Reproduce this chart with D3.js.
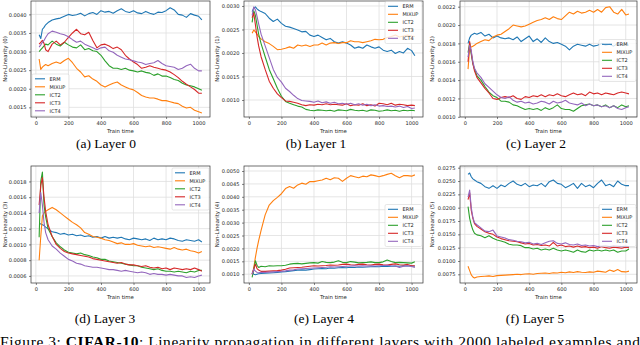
<!DOCTYPE html>
<html>
<head>
<meta charset="utf-8">
<script src="https://d3js.org/d3.v7.min.js"></script>
<style>
  body { margin: 0; background: #fff; }
  .tick text { font-family: "DejaVu Sans", sans-serif; fill: #262626; }
</style>
</head>
<body>
<div id="figure"></div>
<script>
// Shared x values (train time) for every series
var trainTime = [20, 30, 40, 50, 60, 75, 100, 125, 150, 175, 200,
  225, 250, 275, 300, 325, 350, 375, 400, 425, 450, 475,
  500, 525, 550, 575, 600, 625, 650, 675, 700, 725, 750,
  775, 800, 825, 850, 875, 900, 925, 950, 975, 1000, 1020];

var methods = ["ERM", "MIXUP", "ICT2", "ICT3", "ICT4"];
var methodColors = ["#1f77b4", "#ff7f0e", "#2ca02c", "#d62728", "#9467bd"];
var xTicks = [0, 200, 400, 600, 800, 1000];

// Layer 0
var erm0 = [0.00345,0.00335,0.00360,0.00365,0.00372,0.00378,0.00385,0.00388,0.00390,0.00395,0.00400,
  0.00397,0.00399,0.00403,0.00396,0.00402,0.00405,0.00400,0.00410,0.00406,0.00408,0.00403,
  0.00410,0.00415,0.00408,0.00405,0.00410,0.00404,0.00402,0.00408,0.00403,0.00400,0.00406,
  0.00405,0.00410,0.00418,0.00412,0.00400,0.00398,0.00392,0.00402,0.00398,0.00395,0.00385];
var mixup0 = [0.00280,0.00252,0.00258,0.00262,0.00265,0.00262,0.00268,0.00272,0.00268,0.00276,0.00282,
  0.00270,0.00255,0.00245,0.00232,0.00235,0.00226,0.00220,0.00210,0.00205,0.00210,0.00215,
  0.00218,0.00210,0.00205,0.00200,0.00197,0.00190,0.00182,0.00178,0.00175,0.00175,0.00172,
  0.00168,0.00168,0.00165,0.00162,0.00160,0.00153,0.00148,0.00150,0.00142,0.00138,0.00135];
var ict20 = [0.00300,0.00305,0.00310,0.00315,0.00320,0.00318,0.00328,0.00320,0.00315,0.00325,0.00318,
  0.00312,0.00310,0.00318,0.00305,0.00308,0.00302,0.00300,0.00290,0.00275,0.00262,0.00255,
  0.00255,0.00252,0.00255,0.00250,0.00248,0.00245,0.00248,0.00244,0.00242,0.00236,0.00240,
  0.00234,0.00234,0.00230,0.00225,0.00222,0.00215,0.00210,0.00208,0.00205,0.00200,0.00196];
var ict30 = [0.00320,0.00325,0.00330,0.00322,0.00305,0.00300,0.00320,0.00328,0.00318,0.00325,0.00338,
  0.00350,0.00360,0.00348,0.00345,0.00352,0.00330,0.00310,0.00318,0.00320,0.00315,0.00308,
  0.00312,0.00305,0.00290,0.00280,0.00272,0.00265,0.00255,0.00258,0.00262,0.00258,0.00255,
  0.00252,0.00250,0.00245,0.00238,0.00230,0.00220,0.00212,0.00205,0.00198,0.00188,0.00188];
var ict40 = [0.00312,0.00318,0.00325,0.00330,0.00338,0.00348,0.00355,0.00352,0.00348,0.00345,0.00340,
  0.00332,0.00325,0.00328,0.00320,0.00315,0.00310,0.00305,0.00310,0.00312,0.00302,0.00298,
  0.00290,0.00285,0.00280,0.00278,0.00275,0.00272,0.00270,0.00265,0.00268,0.00270,0.00276,
  0.00268,0.00262,0.00260,0.00258,0.00252,0.00255,0.00262,0.00266,0.00255,0.00248,0.00248];

// Layer 1
var erm1 = [0.00288,0.00296,0.00298,0.00294,0.00291,0.00288,0.00284,0.00274,0.00267,0.00272,0.00263,
  0.00257,0.00255,0.00252,0.00249,0.00245,0.00246,0.00238,0.00235,0.00238,0.00233,0.00228,
  0.00231,0.00224,0.00221,0.00224,0.00221,0.00217,0.00210,0.00213,0.00210,0.00217,0.00213,
  0.00210,0.00213,0.00206,0.00203,0.00206,0.00199,0.00203,0.00200,0.00210,0.00205,0.00194];
var mixup1 = [0.00242,0.00249,0.00245,0.00240,0.00235,0.00230,0.00224,0.00220,0.00214,0.00207,0.00208,
  0.00210,0.00213,0.00210,0.00217,0.00215,0.00217,0.00214,0.00217,0.00217,0.00221,0.00217,
  0.00221,0.00222,0.00220,0.00222,0.00222,0.00226,0.00224,0.00224,0.00222,0.00224,0.00226,
  0.00229,0.00228,0.00229,0.00233,0.00235,0.00238,0.00234,0.00236,0.00238,0.00236,0.00235];
var ict21 = [0.00265,0.00290,0.00280,0.00260,0.00240,0.00220,0.00192,0.00165,0.00145,0.00125,0.00108,
  0.00097,0.00093,0.00090,0.00087,0.00085,0.00080,0.00078,0.00077,0.00079,0.00078,0.00077,
  0.00078,0.00076,0.00079,0.00078,0.00077,0.00080,0.00078,0.00077,0.00078,0.00076,0.00079,
  0.00078,0.00076,0.00077,0.00079,0.00077,0.00078,0.00076,0.00078,0.00077,0.00078,0.00077];
var ict31 = [0.00275,0.00285,0.00260,0.00235,0.00215,0.00192,0.00165,0.00140,0.00125,0.00113,0.00105,
  0.00098,0.00097,0.00095,0.00093,0.00090,0.00088,0.00090,0.00089,0.00091,0.00090,0.00092,
  0.00090,0.00091,0.00090,0.00089,0.00092,0.00088,0.00090,0.00089,0.00092,0.00088,0.00090,
  0.00087,0.00093,0.00092,0.00090,0.00093,0.00089,0.00091,0.00090,0.00088,0.00089,0.00088];
var ict41 = [0.00280,0.00298,0.00292,0.00278,0.00262,0.00240,0.00215,0.00190,0.00165,0.00148,0.00138,
  0.00125,0.00118,0.00110,0.00103,0.00099,0.00098,0.00097,0.00095,0.00098,0.00094,0.00096,
  0.00093,0.00095,0.00092,0.00093,0.00091,0.00093,0.00090,0.00092,0.00089,0.00091,0.00088,
  0.00090,0.00087,0.00088,0.00086,0.00087,0.00085,0.00087,0.00084,0.00086,0.00082,0.00083];

// Layer 2
var erm2 = [0.00180,0.00186,0.00189,0.00190,0.00191,0.00190,0.00192,0.00188,0.00190,0.00186,0.00188,
  0.00186,0.00185,0.00186,0.00184,0.00187,0.00182,0.00185,0.00188,0.00182,0.00185,0.00181,
  0.00186,0.00182,0.00180,0.00181,0.00179,0.00177,0.00173,0.00177,0.00179,0.00178,0.00177,
  0.00179,0.00177,0.00178,0.00180,0.00178,0.00179,0.00177,0.00180,0.00178,0.00179,0.00178];
var mixup2 = [0.00152,0.00175,0.00176,0.00177,0.00178,0.00180,0.00182,0.00184,0.00183,0.00187,0.00189,
  0.00190,0.00193,0.00196,0.00200,0.00199,0.00198,0.00199,0.00201,0.00203,0.00205,0.00206,
  0.00208,0.00206,0.00209,0.00207,0.00206,0.00210,0.00214,0.00212,0.00215,0.00213,0.00214,
  0.00216,0.00214,0.00217,0.00214,0.00219,0.00220,0.00214,0.00212,0.00217,0.00211,0.00212];
var ict22 = [0.00170,0.00180,0.00168,0.00158,0.00152,0.00145,0.00140,0.00133,0.00127,0.00123,0.00121,
  0.00117,0.00117,0.00116,0.00113,0.00112,0.00110,0.00108,0.00109,0.00108,0.00109,0.00107,
  0.00110,0.00108,0.00110,0.00113,0.00109,0.00108,0.00108,0.00106,0.00109,0.00112,0.00113,
  0.00114,0.00112,0.00113,0.00111,0.00113,0.00110,0.00112,0.00110,0.00113,0.00111,0.00112];
var ict32 = [0.00160,0.00182,0.00170,0.00158,0.00150,0.00143,0.00137,0.00131,0.00126,0.00120,0.00119,
  0.00121,0.00122,0.00121,0.00123,0.00120,0.00119,0.00122,0.00121,0.00123,0.00122,0.00124,
  0.00122,0.00124,0.00123,0.00125,0.00123,0.00122,0.00124,0.00126,0.00124,0.00125,0.00123,
  0.00127,0.00125,0.00126,0.00124,0.00126,0.00125,0.00124,0.00126,0.00127,0.00126,0.00125];
var ict42 = [0.00165,0.00178,0.00172,0.00160,0.00153,0.00148,0.00143,0.00136,0.00132,0.00128,0.00124,
  0.00121,0.00120,0.00122,0.00118,0.00116,0.00117,0.00115,0.00116,0.00114,0.00115,0.00117,
  0.00116,0.00114,0.00117,0.00115,0.00116,0.00118,0.00115,0.00114,0.00113,0.00115,0.00112,
  0.00114,0.00112,0.00113,0.00111,0.00112,0.00110,0.00112,0.00109,0.00108,0.00110,0.00111];

// Layer 3
var erm3 = [0.00127,0.00126,0.00125,0.00124,0.00122,0.00120,0.00116,0.00115,0.00113,0.00114,0.00112,
  0.00113,0.00111,0.00112,0.00110,0.00111,0.00109,0.00110,0.00108,0.00110,0.00108,0.00109,
  0.00108,0.00109,0.00107,0.00106,0.00108,0.00107,0.00106,0.00107,0.00105,0.00108,0.00106,
  0.00107,0.00106,0.00108,0.00107,0.00105,0.00104,0.00106,0.00105,0.00104,0.00106,0.00103];
var mixup3 = [0.00080,0.00110,0.00136,0.00140,0.00142,0.00144,0.00147,0.00144,0.00140,0.00136,0.00132,
  0.00128,0.00125,0.00121,0.00115,0.00113,0.00110,0.00109,0.00108,0.00106,0.00105,0.00103,
  0.00101,0.00102,0.00100,0.00100,0.00101,0.00099,0.00098,0.00097,0.00098,0.00096,0.00097,
  0.00096,0.00095,0.00094,0.00096,0.00094,0.00093,0.00094,0.00092,0.00091,0.00089,0.00091];
var ict23 = [0.00109,0.00180,0.00192,0.00150,0.00135,0.00120,0.00110,0.00102,0.00097,0.00093,0.00090,
  0.00089,0.00088,0.00089,0.00087,0.00086,0.00084,0.00083,0.00081,0.00081,0.00079,0.00078,
  0.00077,0.00076,0.00075,0.00074,0.00073,0.00073,0.00071,0.00070,0.00069,0.00068,0.00069,
  0.00067,0.00066,0.00066,0.00065,0.00066,0.00065,0.00064,0.00066,0.00065,0.00067,0.00067];
var ict33 = [0.00150,0.00175,0.00185,0.00160,0.00142,0.00125,0.00110,0.00100,0.00095,0.00091,0.00089,
  0.00088,0.00087,0.00086,0.00085,0.00084,0.00082,0.00081,0.00080,0.00079,0.00078,0.00077,
  0.00076,0.00077,0.00075,0.00074,0.00074,0.00073,0.00072,0.00073,0.00071,0.00070,0.00071,
  0.00069,0.00070,0.00068,0.00070,0.00069,0.00068,0.00069,0.00068,0.00070,0.00068,0.00066];
var ict43 = [0.00140,0.00166,0.00150,0.00128,0.00115,0.00106,0.00098,0.00094,0.00089,0.00085,0.00081,
  0.00079,0.00076,0.00075,0.00073,0.00072,0.00071,0.00071,0.00070,0.00069,0.00068,0.00068,
  0.00067,0.00066,0.00067,0.00066,0.00065,0.00064,0.00065,0.00064,0.00062,0.00063,0.00062,
  0.00062,0.00061,0.00062,0.00061,0.00060,0.00060,0.00058,0.00059,0.00058,0.00060,0.00061];

// Layer 4
var erm4 = [0.00107,0.00100,0.00098,0.00100,0.00102,0.00103,0.00104,0.00105,0.00106,0.00107,0.00109,
  0.00110,0.00112,0.00114,0.00116,0.00117,0.00116,0.00118,0.00120,0.00121,0.00122,0.00121,
  0.00124,0.00123,0.00125,0.00126,0.00125,0.00127,0.00126,0.00128,0.00127,0.00128,0.00129,
  0.00130,0.00129,0.00131,0.00130,0.00131,0.00132,0.00131,0.00133,0.00132,0.00132,0.00131];
var mixup4 = [0.00100,0.00125,0.00165,0.00200,0.00230,0.00270,0.00330,0.00368,0.00385,0.00398,0.00412,
  0.00432,0.00440,0.00433,0.00446,0.00453,0.00449,0.00459,0.00459,0.00462,0.00465,0.00472,
  0.00466,0.00474,0.00472,0.00460,0.00472,0.00482,0.00478,0.00474,0.00480,0.00478,0.00485,
  0.00482,0.00478,0.00482,0.00487,0.00491,0.00482,0.00474,0.00482,0.00482,0.00480,0.00485];
var ict24 = [0.00088,0.00120,0.00152,0.00135,0.00126,0.00131,0.00129,0.00133,0.00132,0.00133,0.00133,
  0.00135,0.00139,0.00141,0.00142,0.00140,0.00142,0.00144,0.00145,0.00143,0.00149,0.00146,
  0.00145,0.00147,0.00152,0.00146,0.00145,0.00149,0.00147,0.00144,0.00145,0.00146,0.00148,
  0.00145,0.00145,0.00148,0.00155,0.00149,0.00145,0.00146,0.00145,0.00144,0.00143,0.00148];
var ict34 = [0.00100,0.00120,0.00139,0.00122,0.00116,0.00111,0.00111,0.00112,0.00113,0.00114,0.00116,
  0.00119,0.00124,0.00125,0.00126,0.00127,0.00129,0.00131,0.00133,0.00132,0.00133,0.00134,
  0.00136,0.00135,0.00136,0.00138,0.00139,0.00137,0.00136,0.00138,0.00139,0.00137,0.00136,
  0.00138,0.00139,0.00137,0.00136,0.00138,0.00140,0.00137,0.00136,0.00138,0.00133,0.00133];
var ict44 = [0.00100,0.00120,0.00112,0.00107,0.00106,0.00107,0.00107,0.00108,0.00109,0.00110,0.00111,
  0.00113,0.00116,0.00117,0.00120,0.00121,0.00122,0.00123,0.00124,0.00125,0.00126,0.00127,
  0.00129,0.00128,0.00129,0.00130,0.00131,0.00132,0.00133,0.00132,0.00133,0.00132,0.00133,
  0.00132,0.00133,0.00134,0.00135,0.00133,0.00132,0.00126,0.00131,0.00133,0.00130,0.00126];

// Layer 5
var erm5 = [0.02625,0.02650,0.02580,0.02540,0.02520,0.02488,0.02456,0.02394,0.02363,0.02413,0.02363,
  0.02425,0.02394,0.02456,0.02500,0.02438,0.02413,0.02456,0.02394,0.02425,0.02413,0.02456,
  0.02394,0.02488,0.02519,0.02456,0.02438,0.02375,0.02413,0.02456,0.02363,0.02456,0.02394,
  0.02425,0.02375,0.02456,0.02519,0.02413,0.02438,0.02394,0.02500,0.02438,0.02413,0.02413];
var mixup5 = [0.00900,0.00820,0.00740,0.00700,0.00680,0.00700,0.00710,0.00715,0.00720,0.00710,0.00725,
  0.00730,0.00735,0.00740,0.00745,0.00750,0.00745,0.00755,0.00760,0.00750,0.00765,0.00770,
  0.00775,0.00765,0.00780,0.00775,0.00790,0.00780,0.00795,0.00785,0.00800,0.00790,0.00785,
  0.00795,0.00790,0.00810,0.00800,0.00790,0.00830,0.00805,0.00840,0.00800,0.00795,0.00810];
var ict25 = [0.02020,0.01800,0.01675,0.01580,0.01520,0.01490,0.01475,0.01438,0.01475,0.01425,0.01394,
  0.01375,0.01350,0.01313,0.01300,0.01300,0.01288,0.01250,0.01250,0.01225,0.01238,0.01206,
  0.01225,0.01206,0.01238,0.01206,0.01188,0.01206,0.01188,0.01163,0.01206,0.01175,0.01163,
  0.01206,0.01188,0.01206,0.01188,0.01206,0.01188,0.01206,0.01163,0.01188,0.01188,0.01225];
var ict35 = [0.02150,0.02280,0.01950,0.01800,0.01700,0.01650,0.01600,0.01550,0.01520,0.01500,0.01450,
  0.01420,0.01400,0.01380,0.01370,0.01360,0.01340,0.01320,0.01330,0.01300,0.01310,0.01290,
  0.01300,0.01280,0.01350,0.01280,0.01300,0.01270,0.01280,0.01260,0.01280,0.01260,0.01270,
  0.01250,0.01260,0.01240,0.01270,0.01250,0.01240,0.01260,0.01250,0.01240,0.01260,0.01250];
var ict45 = [0.02200,0.02330,0.02000,0.01820,0.01720,0.01680,0.01620,0.01560,0.01550,0.01580,0.01470,
  0.01450,0.01430,0.01400,0.01390,0.01370,0.01360,0.01340,0.01350,0.01320,0.01330,0.01310,
  0.01340,0.01370,0.01380,0.01330,0.01320,0.01340,0.01310,0.01300,0.01320,0.01290,0.01300,
  0.01280,0.01290,0.01270,0.01280,0.01290,0.01270,0.01290,0.01280,0.01270,0.01280,0.01270];

// y tick labels for each layer
var yTicks0 = [0.0015, 0.0020, 0.0025, 0.0030, 0.0035, 0.0040];
var yTicks1 = [0.0010, 0.0015, 0.0020, 0.0025, 0.0030];
var yTicks2 = [0.0010, 0.0012, 0.0014, 0.0016, 0.0018, 0.0020, 0.0022];
var yTicks3 = [0.0006, 0.0008, 0.0010, 0.0012, 0.0014, 0.0016, 0.0018];
var yTicks4 = [0.0010, 0.0015, 0.0020, 0.0025, 0.0030, 0.0035, 0.0040, 0.0045, 0.0050];
var yTicks5 = [0.0075, 0.0100, 0.0125, 0.0150, 0.0175, 0.0200, 0.0225, 0.0250, 0.0275];

// Panel layout (frame edges in page pixels)
var panels = [
  {layer: 0, caption: "(a) Layer 0", series: [erm0, mixup0, ict20, ict30, ict40], yTicks: yTicks0,
    yDomain: [0.00124, 0.00436], left: 31, right: 210, top: 1, bottom: 117, ylabelX: 5, capX: 106, capY: 148,
    legendX: 1, legendY: 73},
  {layer: 1, caption: "(b) Layer 1", series: [erm1, mixup1, ict21, ict31, ict41], yTicks: yTicks1,
    yDomain: [0.000638, 0.003106], left: 244, right: 423, top: 1, bottom: 117, ylabelX: 216.5, capX: 316, capY: 148,
    legendX: 141, legendY: 0.5},
  {layer: 2, caption: "(c) Layer 2", series: [erm2, mixup2, ict22, ict32, ict42], yTicks: yTicks2,
    yDomain: [0.000998, 0.002262], left: 460, right: 637, top: 1, bottom: 117, ylabelX: 431.5, capX: 536, capY: 148,
    legendX: 139, legendY: 38.5},
  {layer: 3, caption: "(d) Layer 3", series: [erm3, mixup3, ict23, ict33, ict43], yTicks: yTicks3,
    yDomain: [0.00051, 0.001996], left: 31, right: 210, top: 166, bottom: 283, ylabelX: 5, capX: 105, capY: 323,
    legendX: 141, legendY: 2},
  {layer: 4, caption: "(e) Layer 4", series: [erm4, mixup4, ict24, ict34, ict44], yTicks: yTicks4,
    yDomain: [0.00066, 0.005194], left: 244, right: 423, top: 166, bottom: 283, ylabelX: 216.5, capX: 324, capY: 323,
    legendX: 141, legendY: 38.5},
  {layer: 5, caption: "(f) Layer 5", series: [erm5, mixup5, ict25, ict35, ict45], yTicks: yTicks5,
    yDomain: [0.00587, 0.02782], left: 460, right: 637, top: 166, bottom: 283, ylabelX: 431.5, capX: 535, capY: 323,
    legendX: 139, legendY: 38.5}
];

var svgWidth = 640;
var svgHeight = 345;

var svg = d3.select("#figure")
  .append("svg")
  .attr("width", svgWidth)
  .attr("height", svgHeight)
  .style("display", "block");

svg.append("rect")
  .attr("width", svgWidth)
  .attr("height", svgHeight)
  .attr("fill", "#fff");

var tickFont = 5.1;

panels.forEach(function(p, i) {
  var width = p.right - p.left;
  var height = p.bottom - p.top;

  var xScale = d3.scaleLinear().domain([-30, 1070]).range([0, width]);
  var yScale = d3.scaleLinear().domain(p.yDomain).range([height, 0]);

  var chartGroup = svg.append("g")
    .attr("transform", `translate(${p.left}, ${p.top})`);

  // grid lines
  chartGroup.append("g").selectAll("line")
    .data(xTicks)
    .enter()
    .append("line")
    .attr("x1", d => xScale(d)).attr("x2", d => xScale(d))
    .attr("y1", 0).attr("y2", height)
    .attr("stroke", "#dedede").attr("stroke-width", 0.8);

  chartGroup.append("g").selectAll("line")
    .data(p.yTicks)
    .enter()
    .append("line")
    .attr("x1", 0).attr("x2", width)
    .attr("y1", d => yScale(d)).attr("y2", d => yScale(d))
    .attr("stroke", "#dedede").attr("stroke-width", 0.8);

  // clip the lines to the frame
  svg.append("clipPath")
    .attr("id", "clip" + i)
    .append("rect")
    .attr("width", width)
    .attr("height", height);

  var line = d3.line()
    .x((d, j) => xScale(trainTime[j]))
    .y(d => yScale(d));

  chartGroup.append("g")
    .attr("clip-path", `url(#clip${i})`)
    .selectAll("path")
    .data(p.series)
    .enter()
    .append("path")
    .attr("d", d => line(d))
    .attr("fill", "none")
    .attr("stroke", (d, j) => methodColors[j])
    .attr("stroke-width", 1.1)
    .attr("stroke-linejoin", "round");

  // axes
  var bottomAxis = d3.axisBottom(xScale)
    .tickValues(xTicks)
    .tickFormat(d3.format("d"))
    .tickSize(2)
    .tickPadding(2);

  var leftAxis = d3.axisLeft(yScale)
    .tickValues(p.yTicks)
    .tickFormat(d3.format(".4f"))
    .tickSize(2)
    .tickPadding(2.5);

  var xAxis = chartGroup.append("g")
    .attr("transform", `translate(0, ${height})`)
    .call(bottomAxis);

  var yAxis = chartGroup.append("g")
    .call(leftAxis);

  [xAxis, yAxis].forEach(function(ax) {
    ax.select(".domain").remove();
    ax.selectAll(".tick line").attr("stroke", "#333").attr("stroke-width", 0.6);
    ax.selectAll(".tick text").attr("font-size", tickFont);
  });

  // frame
  chartGroup.append("rect")
    .attr("width", width)
    .attr("height", height)
    .attr("fill", "none")
    .attr("stroke", "#333")
    .attr("stroke-width", 0.7);

  // axis labels
  chartGroup.append("text")
    .attr("x", width / 2)
    .attr("y", height + 15.5)
    .attr("text-anchor", "middle")
    .attr("font-family", "DejaVu Sans, sans-serif")
    .attr("font-size", 5.4)
    .attr("fill", "#262626")
    .text("Train time");

  svg.append("text")
    .attr("transform", `translate(${p.ylabelX}, ${(p.top + p.bottom) / 2}) rotate(-90)`)
    .attr("text-anchor", "middle")
    .attr("dominant-baseline", "central")
    .attr("font-family", "DejaVu Sans, sans-serif")
    .attr("font-size", 5.4)
    .attr("fill", "#262626")
    .text(`Non-Linearity (${p.layer})`);

  // legend
  var legendGroup = chartGroup.append("g")
    .attr("transform", `translate(${p.legendX}, ${p.legendY})`);

  legendGroup.append("rect")
    .attr("width", 37)
    .attr("height", 42)
    .attr("rx", 1.5)
    .attr("fill", "#fff")
    .attr("fill-opacity", 0.8)
    .attr("stroke", "#cccccc")
    .attr("stroke-width", 0.5);

  var entries = legendGroup.selectAll(".entry")
    .data(methods)
    .enter()
    .append("g")
    .attr("transform", (d, j) => `translate(0, ${4.8 + j * 8})`);

  entries.append("line")
    .attr("x1", 3).attr("x2", 13)
    .attr("y1", 0).attr("y2", 0)
    .attr("stroke", (d, j) => methodColors[j])
    .attr("stroke-width", 1.1);

  entries.append("text")
    .attr("x", 17.5)
    .attr("y", 0)
    .attr("dominant-baseline", "central")
    .attr("font-family", "DejaVu Sans, sans-serif")
    .attr("font-size", 5)
    .attr("fill", "#262626")
    .text(d => d);

  // sub-caption
  svg.append("text")
    .attr("x", p.capX)
    .attr("y", p.capY)
    .attr("text-anchor", "middle")
    .attr("font-family", "Liberation Serif, Times New Roman, serif")
    .attr("font-size", 13.5)
    .attr("fill", "#000")
    .text(p.caption);
});

// figure caption, cut off by the bottom edge as in the source page
var figCaption = svg.append("text")
  .attr("x", 0)
  .attr("y", 346.5)
  .attr("font-family", "Liberation Serif, Times New Roman, serif")
  .attr("font-size", 15.5)
  .attr("textLength", 640)
  .attr("lengthAdjust", "spacing")
  .attr("fill", "#000");

figCaption.append("tspan").text("Figure 3: ");
figCaption.append("tspan").attr("font-weight", "bold").text("CIFAR-10");
figCaption.append("tspan").text(": Linearity propagation in different layers with 2000 labeled examples and");
</script>
</body>
</html>
